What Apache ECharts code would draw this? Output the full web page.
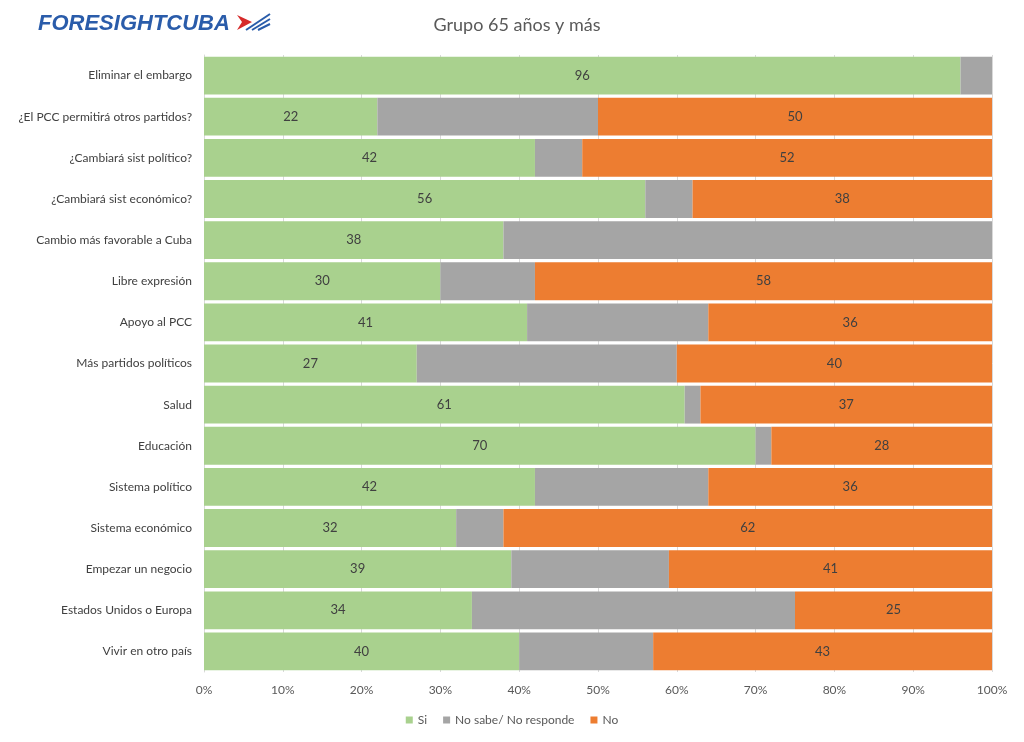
<!DOCTYPE html>
<html>
<head>
<meta charset="utf-8">
<script src="https://cdn.jsdelivr.net/npm/echarts@6/dist/echarts.min.js"></script>
<style>
  html, body { margin: 0; padding: 0; background: #fff; }
  #chart { width: 1024px; height: 742px; }
</style>
</head>
<body>
<div id="chart"></div>
<script>
const categories = [
  'Eliminar el embargo',
  '¿El PCC permitirá otros partidos?',
  '¿Cambiará sist político?',
  '¿Cambiará sist económico?',
  'Cambio más favorable a Cuba',
  'Libre expresión',
  'Apoyo al PCC',
  'Más partidos políticos',
  'Salud',
  'Educación',
  'Sistema político',
  'Sistema económico',
  'Empezar un negocio',
  'Estados Unidos o Europa',
  'Vivir en otro país'
]
const si = [96, 22, 42, 56, 38, 30, 41, 27, 61, 70, 42, 32, 39, 34, 40]
const noSabe = [4, 28, 6, 6, 62, 12, 23, 33, 2, 2, 22, 6, 20, 41, 17]
const no = [0, 50, 52, 38, 0, 58, 36, 40, 37, 28, 36, 62, 41, 25, 43]
const xTicks = [0, 10, 20, 30, 40, 50, 60, 70, 80, 90, 100]

const font = 'Lato, "Open Sans", sans-serif'
const chart = echarts.init(document.getElementById('chart'))

// etiquetas solo en Si y No, nada si el valor es 0
const label = {
  show: true,
  color: '#404040',
  fontSize: 13,
  fontFamily: font,
  formatter: p => (p.value > 0 ? p.value : '')
}

chart.setOption({
  animation: false,
  title: {
    text: 'Grupo 65 años y más',
    left: 512,
    textAlign: 'center',
    top: 11,
    textStyle: { color: '#595959', fontSize: 18, fontWeight: 'normal', fontFamily: font }
  },
  graphic: [
    {
      type: 'text',
      left: 38,
      top: 13,
      style: {
        text: 'FORESIGHTCUBA',
        fill: '#2a5caa',
        font: 'italic bold 22px "Liberation Sans", sans-serif'
      }
    },
    {
      type: 'polygon',
      shape: { points: [[237, 15], [252, 22], [237, 30], [242, 22]] },
      style: { fill: '#d62a2a' }
    },
    {
      type: 'polyline',
      shape: { points: [[246, 30], [270, 14]] },
      style: { stroke: '#2a5caa', lineWidth: 2 }
    },
    {
      type: 'polyline',
      shape: { points: [[252, 30], [270, 19]] },
      style: { stroke: '#2a5caa', lineWidth: 2 }
    },
    {
      type: 'polyline',
      shape: { points: [[258, 30], [270, 24]] },
      style: { stroke: '#2a5caa', lineWidth: 2 }
    }
  ],
  legend: {
    bottom: 11,
    left: 'center',
    itemWidth: 7,
    itemHeight: 7,
    itemGap: 16,
    icon: 'rect',
    textStyle: { color: '#595959', fontSize: 12, fontFamily: font },
    data: ['Si', 'No sabe/ No responde', 'No']
  },
  grid: { left: 204, right: 32, top: 55, bottom: 70 },
  xAxis: {
    type: 'value',
    min: 0,
    max: 100,
    interval: 10,
    axisLabel: {
      color: '#595959',
      fontSize: 12,
      fontFamily: font,
      margin: 12,
      formatter: v => (xTicks.includes(v) ? v + '%' : '')
    },
    axisLine: { show: false },
    axisTick: { show: false },
    splitLine: { lineStyle: { color: '#d9d9d9' } }
  },
  yAxis: {
    type: 'category',
    inverse: true,
    data: categories,
    axisLabel: { color: '#404040', fontSize: 12, fontFamily: font, margin: 12 },
    axisLine: { lineStyle: { color: '#d9d9d9' } },
    axisTick: { show: false }
  },
  series: [
    {
      name: 'Si',
      type: 'bar',
      stack: 'all',
      barCategoryGap: '8%',
      itemStyle: { color: '#a9d18e' },
      label: label,
      data: si
    },
    {
      name: 'No sabe/ No responde',
      type: 'bar',
      stack: 'all',
      itemStyle: { color: '#a5a5a5' },
      data: noSabe
    },
    {
      name: 'No',
      type: 'bar',
      stack: 'all',
      itemStyle: { color: '#ed7d31' },
      label: label,
      data: no
    }
  ]
})
</script>
</body>
</html>
